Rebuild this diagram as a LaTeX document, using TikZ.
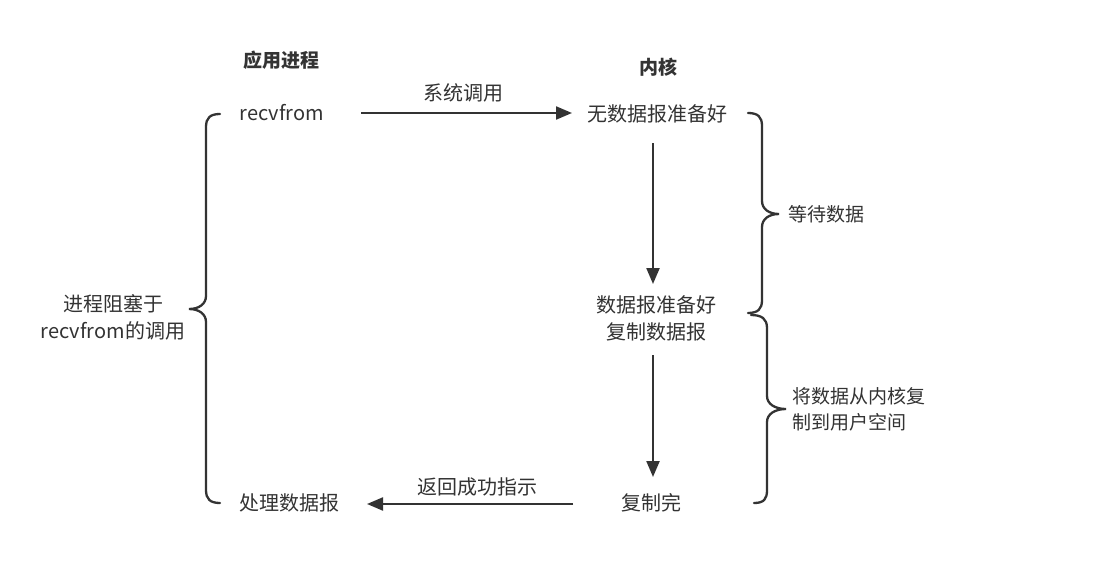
\documentclass[tikz,border=0pt]{standalone}
\usepackage{fontspec}
\setmainfont{Noto Sans CJK SC}
\usetikzlibrary{arrows.meta}
\definecolor{ink}{HTML}{333333}
\definecolor{txt}{HTML}{333333}
\tikzset{
  lbl/.style={inner sep=0pt, text=txt, font=\fontsize{20}{27}\selectfont},
  side/.style={inner sep=0pt, text=txt, font=\fontsize{19}{26}\selectfont},
  head/.style={inner sep=0pt, text=txt, font=\fontsize{19}{26}\selectfont\bfseries},
  arr/.style={draw=ink, line width=2.2pt, -{Triangle[length=16pt,width=13pt]}},
  brc/.style={draw=ink, line width=2.3pt, line cap=round},
}
\begin{document}
\begin{tikzpicture}[x=1pt,y=-1pt]
\useasboundingbox (0,0) rectangle (1107,567);
\fill[white] (0,0) rectangle (1107,567);

\node[head] (app) at (281,60) {应用进程};
\node[head] (kern) at (658,67) {内核};

\node[lbl] (recv) at (282,113) {recvfrom};
\node[lbl] (none) at (657,114) {无数据报准备好};
\node[lbl, align=center] (ready) at (656,318) {数据报准备好\\复制数据报};
\node[lbl] (done) at (651,503) {复制完};
\node[lbl] (proc) at (289,503) {处理数据报};

\node[lbl] (syscall) at (463,93) {系统调用};
\node[lbl] (ret) at (477,487) {返回成功指示};

\coordinate (a1s) at (361,113);
\coordinate (a1e) at (572,113);
\draw[arr] (a1s) -- (a1e);

\coordinate (a2s) at (653,143);
\coordinate (a2e) at (653,284);
\draw[arr] (a2s) -- (a2e);

\coordinate (a3s) at (653,355);
\coordinate (a3e) at (653,477);
\draw[arr] (a3s) -- (a3e);

\coordinate (a4s) at (573,504);
\coordinate (a4e) at (367,504);
\draw[arr] (a4s) -- (a4e);

% left brace
\draw[brc] (220,114) .. controls (210,114) and (206,118) .. (206,127)
  -- (206,296) .. controls (206,304) and (199,309) .. (189,309)
  .. controls (199,309) and (206,314) .. (206,322)
  -- (206,490) .. controls (206,499) and (210,503) .. (220,503);
\node[lbl, align=center] (block) at (113,317) {进程阻塞于\\recvfrom的调用};

% right brace 1
\draw[brc] (748,113) .. controls (758,113) and (762,117) .. (762,126)
  -- (762,201) .. controls (762,209) and (769,214) .. (779,214)
  .. controls (769,214) and (762,219) .. (762,227)
  -- (762,300) .. controls (762,309) and (758,313) .. (748,313);
\node[side, anchor=west] (wait) at (788,214) {等待数据};

% right brace 2
\draw[brc] (751,315) .. controls (762,315) and (767,319) .. (767,328)
  -- (767,396) .. controls (767,404) and (775,409) .. (786,409)
  .. controls (775,409) and (767,414) .. (767,422)
  -- (767,490) .. controls (767,499) and (764,503) .. (754,503);
\node[side, anchor=west, align=left] (copy) at (792,409) {将数据从内核复\\制到用户空间};
\end{tikzpicture}
\end{document}
